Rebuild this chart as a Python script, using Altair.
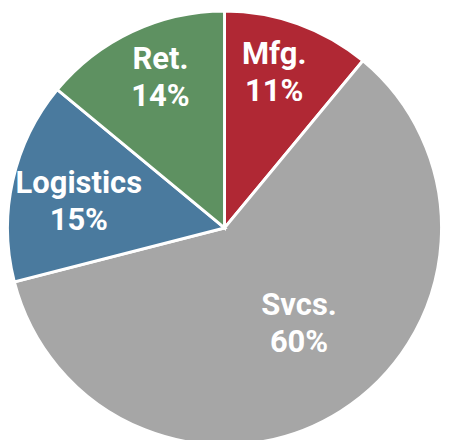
import altair as alt
import pandas as pd

cats = ["Mfg.", "Svcs.", "Logistics", "Ret."]
shares = [11, 60, 15, 14]
colors = ["#B02834", "#A6A6A6", "#4A7A9E", "#5E9161"]

# label placement (radius, dx, dy) per category
label_place = {
    "Mfg.": (164, -5, -22),
    "Svcs.": (123, 10, -24),
    "Logistics": (150, -2, -12),
    "Ret.": (165, 5, -22),
}

CX, CY, R = 220.5, 220, 221

df = pd.DataFrame({"cat": cats, "share": shares, "order": list(range(len(cats)))})

theta_scale = alt.Scale(domain=[0, 100])

arcs = alt.Chart(df).mark_arc(outerRadius=R, stroke="white", strokeWidth=3).encode(
    theta=alt.Theta("share:Q", stack=True, scale=theta_scale),
    order=alt.Order("order:Q"),
    color=alt.Color("cat:N", scale=alt.Scale(domain=cats, range=colors), legend=None),
    x=alt.value(CX),
    y=alt.value(CY),
)

texts = []
for c in cats:
    r, dx, dy = label_place[c]
    t = (
        alt.Chart(df)
        .transform_window(cum="sum(share)", sort=[alt.SortField("order")])
        .transform_calculate(
            mid="datum.cum - datum.share / 2",
            label="datum.cat + '\\n' + datum.share + '%'",
        )
        .transform_filter(alt.datum.cat == c)
        .mark_text(
            radius=r, dx=dx, dy=dy, lineBreak="\n", font="Roboto", fontWeight="bold",
            fontSize=31.5, lineHeight=38, color="white", align="center", baseline="middle",
        )
        .encode(
            theta=alt.Theta("mid:Q", stack=False, scale=theta_scale),
            text="label:N",
            x=alt.value(CX),
            y=alt.value(CY),
        )
    )
    texts.append(t)

chart = (
    alt.layer(arcs, *texts)
    .properties(width=443, height=432, padding=0, autosize="none")
    .configure_view(stroke=None)
)

chart.save("out.html", embed_options={"renderer": "svg", "actions": False})
